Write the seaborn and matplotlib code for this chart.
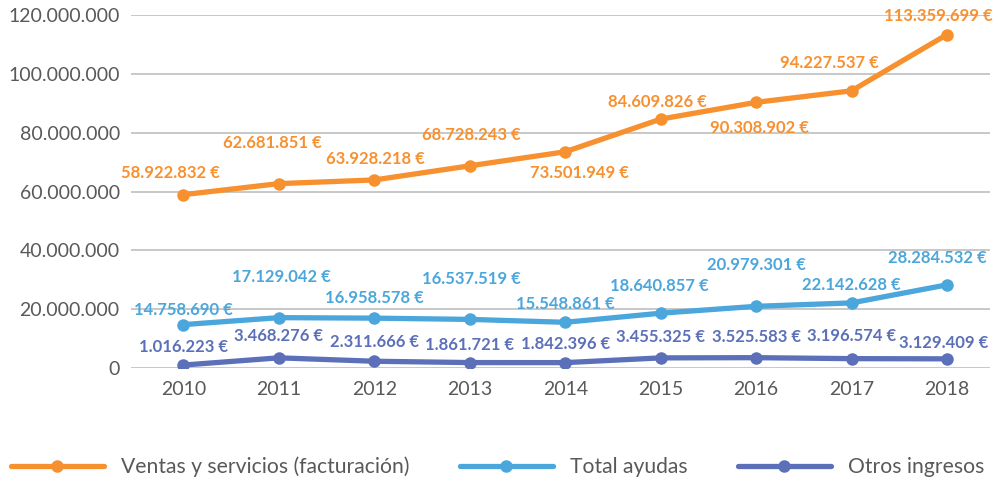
import pandas as pd
import numpy as np
import matplotlib.pyplot as plt
import seaborn as sns

years = ['2010', '2011', '2012', '2013', '2014', '2015', '2016', '2017', '2018']
ventas = [58922832, 62681851, 63928218, 68728243, 73501949, 84609826, 90308902, 94227537, 113359699]
ayudas = [14758690, 17129042, 16958578, 16537519, 15548861, 18640857, 20979301, 22142628, 28284532]
otros = [1016223, 3468276, 2311666, 1861721, 1842396, 3455325, 3525583, 3196574, 3129409]
series_names = ['Ventas y servicios (facturación)', 'Total ayudas', 'Otros ingresos']

colors = ['#F7902F', '#4BA6DB', '#5B70B9']
# label offsets in pixels (dx, dy), dy negative = above
offsets = {
    series_names[0]: [(-13, -22), (-7, -41), (1, -21), (2, -31), (14, 21), (-3, -17), (3, 26), (-22, -28), (-9, -19)],
    series_names[1]: [(0, -15), (3, -41), (0, -20), (2, -40), (0, -18), (-1, -27), (0, -41), (0, -18), (-10, -27)],
    series_names[2]: [(0, -18), (0, -22), (0, -19), (0, -18), (0, -19), (0, -21), (0, -21), (0, -23), (-3, -16)],
}

df = pd.DataFrame({
    'idx': list(range(len(years))) * 3,
    'valor': ventas + ayudas + otros,
    'serie': [s for s in series_names for _ in years],
})

sns.set_style('white')
plt.rcParams['font.family'] = ['Lato', 'DejaVu Sans']

fig = plt.figure(figsize=(9.99, 4.83), dpi=100)
ax = fig.add_axes([0.131, 0.238, 0.86, 0.731])

sns.lineplot(data=df, x='idx', y='valor', hue='serie', palette=colors, hue_order=series_names,
             marker='o', markersize=9, markeredgewidth=0, linewidth=3.8, ax=ax, legend=True)

for s, c in zip(series_names, colors):
    vals = df[df['serie'] == s]['valor'].tolist()
    for i, v in enumerate(vals):
        dx, dy = offsets[s][i]
        txt = f"{v:,}".replace(',', '.') + ' €'
        ax.annotate(txt, (i, v), xytext=(dx * 0.72, -dy * 0.72), textcoords='offset points',
                    ha='center', va='center', color=c, fontsize=12, fontweight='bold')

ax.set_xlim(-0.55, 8.45)
ax.set_ylim(0, 120000000)
ax.set_xticks(range(len(years)))
ax.set_xticklabels(years)
yt = np.arange(0, 120000001, 20000000)
ax.set_yticks(yt)
ax.set_yticklabels([f"{int(t):,}".replace(',', '.') for t in yt])
ax.yaxis.grid(True, color='#BFBFBF', linewidth=1.2)
ax.tick_params(axis='both', length=0, labelsize=14, labelcolor='#595959', pad=8)
ax.tick_params(axis='x', pad=9)
ax.set_xlabel('')
ax.set_ylabel('')
for sp in ax.spines.values():
    sp.set_visible(False)

handles, labels = ax.get_legend_handles_labels()
leg = ax.legend(handles, labels, loc='center', bbox_to_anchor=(0.498, 0.033), bbox_transform=fig.transFigure,
                ncol=3, frameon=False, handlelength=4.4, fontsize=15.2, labelcolor='#595959',
                columnspacing=2.4, handletextpad=0.8)

fig.savefig('out.png', dpi=100)
